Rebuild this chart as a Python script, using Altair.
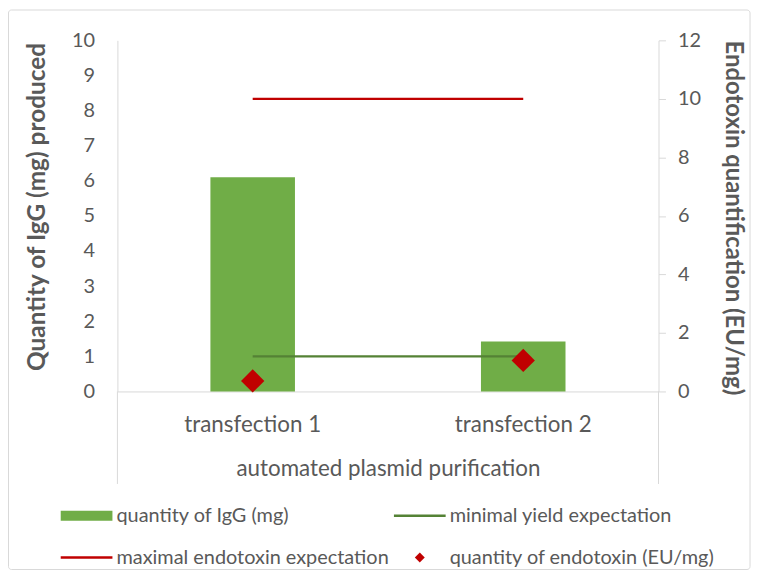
import altair as alt
import pandas as pd

# ---- data ----
categories = ["transfection 1", "transfection 2"]
igg_mg = [6.1, 1.42]            # left axis (bars)
min_yield = [1.0, 1.0]          # left axis (green line)
max_endotoxin = [10.0, 10.0]    # right axis (red line)
endotoxin = [0.36, 1.06]        # right axis (red diamonds)

series_names = [
    "quantity of IgG (mg)",
    "minimal yield expectation",
    "maximal endotoxin expectation",
    "quantity of endotoxin (EU/mg)",
]
series_colors = ["#70AD47", "#548235", "#C00000", "#C00000"]
series_shapes = [
    "M-5.2,-1H5.2V1H-5.2Z",
    "M-5.2,-0.25H5.2V0.25H-5.2Z",
    "M-5.2,-0.25H5.2V0.25H-5.2Z",
    "M0,-1L1,0L0,1L-1,0Z",
]

left_ticks = list(range(0, 11))
right_ticks = list(range(0, 13, 2))

df = pd.DataFrame({
    "category": categories,
    "igg": igg_mg,
    "min_yield": min_yield,
    "max_endo": max_endotoxin,
    "endo": endotoxin,
    "series": [series_names[3]] * len(categories),
})

FONT = "Lato"
TEXT = "#595959"
LINE = "#D9D9D9"
W, H = 544, 353

xenc = alt.X(
    "category:N",
    sort=categories,
    scale=alt.Scale(paddingInner=0.6875, paddingOuter=0.34375),
    axis=alt.Axis(
        title="automated plasmid purification",
        labelAngle=0, ticks=False, domainColor=LINE, domainWidth=1,
        labelFont=FONT, labelFontSize=22.5, labelColor=TEXT,
        labelBaseline="alphabetic", labelPadding=40,
        titleFont=FONT, titleFontSize=22.5, titleFontWeight="normal",
        titleColor=TEXT, titleBaseline="alphabetic", titleAlign="center",
        titleX=W / 2, titleY=85,
    ),
)

left_axis = alt.Axis(
    title="Quantity of IgG (mg) produced", values=left_ticks, ticks=False,
    grid=False, domainColor=LINE, labelPadding=23,
    labelFont=FONT, labelFontSize=20, labelColor=TEXT,
    titleFont=FONT, titleFontSize=24.5, titleFontWeight="bold", titleColor=TEXT,
    titleAngle=-90, titleBaseline="alphabetic", titleAlign="center",
    titleX=-73, titleY=167,
)
right_axis = alt.Axis(
    title="Endotoxin quantification (EU/mg)", orient="right",
    values=right_ticks, ticks=True, tickSize=7, tickColor=LINE,
    grid=False, domainColor=LINE, labelPadding=12,
    labelFont=FONT, labelFontSize=20, labelColor=TEXT,
    titleFont=FONT, titleFontSize=24, titleFontWeight="bold", titleColor=TEXT,
    titleAngle=90, titleBaseline="alphabetic", titleAlign="center",
    titleX=67, titleY=178,
)

yl_scale = alt.Scale(domain=[0, 10], nice=False)
yr_scale = alt.Scale(domain=[0, 12], nice=False)

bars = alt.Chart(df).mark_bar(color="#70AD47").encode(
    x=xenc, y=alt.Y("igg:Q", scale=yl_scale, axis=left_axis)
)
minline = alt.Chart(df).mark_line(color="#548235", strokeWidth=2.25).encode(
    x=xenc, y=alt.Y("min_yield:Q", scale=yl_scale, axis=left_axis)
)

legend = alt.Legend(
    title=None, orient="none", legendX=-41, legendY=468, columns=2,
    direction="horizontal",
    symbolSize=100, symbolStrokeWidth=0, labelOffset=20, labelLimit=500,
    labelFont=FONT, labelFontSize=20, labelColor=TEXT,
    rowPadding=22, columnPadding=4, padding=0,
)

maxline = alt.Chart(df).mark_line(color="#C00000", strokeWidth=2.25).encode(
    x=xenc, y=alt.Y("max_endo:Q", scale=yr_scale, axis=right_axis)
)
points = alt.Chart(df).mark_point(filled=True, size=550, opacity=1).encode(
    x=xenc,
    y=alt.Y("endo:Q", scale=yr_scale, axis=right_axis),
    color=alt.Color("series:N", scale=alt.Scale(domain=series_names, range=series_colors), legend=legend),
    shape=alt.Shape("series:N", scale=alt.Scale(domain=series_names, range=series_shapes), legend=legend),
)

left = alt.layer(bars, minline)
right = alt.layer(maxline, points)

dummy = pd.DataFrame({"k": [0]})
sep_left = alt.Chart(dummy).mark_rule(color=LINE, strokeWidth=1).encode(
    x=alt.value(0), y=alt.value(H), y2=alt.value(446)
)
sep_right = alt.Chart(dummy).mark_rule(color=LINE, strokeWidth=1).encode(
    x=alt.value(W), y=alt.value(H), y2=alt.value(446)
)
border = alt.Chart(dummy).mark_rect(fillOpacity=0, stroke=LINE, strokeWidth=1, cornerRadius=3).encode(
    x=alt.value(-109.5), x2=alt.value(636), y=alt.value(-30.5), y2=alt.value(532)
)

chart = alt.layer(border, sep_left, sep_right, left, right).resolve_scale(
    y="independent"
).properties(
    width=W, height=H,
    autosize=alt.AutoSizeParams(type="none"),
    padding={"left": 110, "top": 31, "right": 95, "bottom": 180},
    background="white",
).configure_view(stroke=None)

chart.save("out.html", embed_options={"renderer": "svg", "actions": False})
